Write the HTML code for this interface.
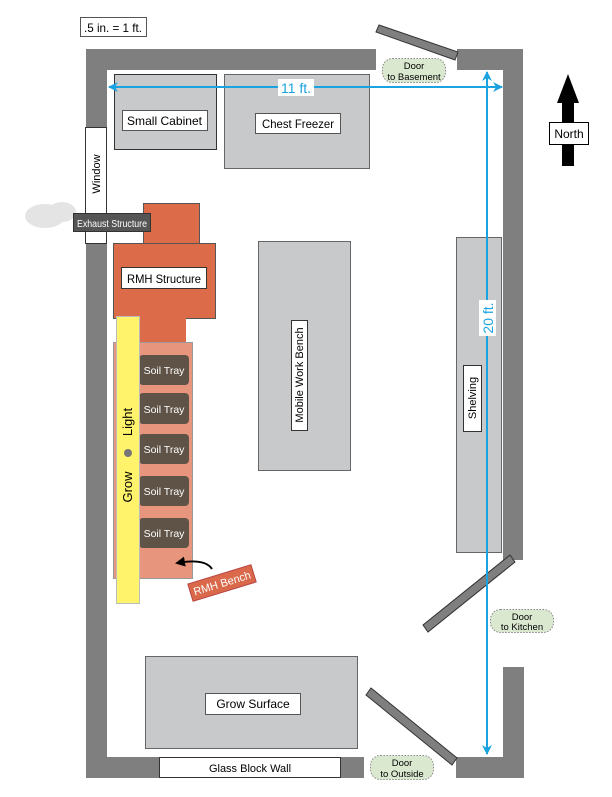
<!DOCTYPE html>
<html><head><style>
body{margin:0;background:#fff}
svg text{font-family:"Liberation Sans",sans-serif}
</style></head><body>
<svg width="612" height="792" viewBox="0 0 612 792" xmlns="http://www.w3.org/2000/svg">
<defs>
<marker id="ab" viewBox="0 0 10 10" refX="9" refY="5" markerWidth="5" markerHeight="5" orient="auto-start-reverse"><path d="M0,0L10,5L0,10L3,5z" fill="#1aa3e0"/></marker>
<marker id="ak" viewBox="0 0 10 10" refX="8" refY="5" markerWidth="5" markerHeight="5" orient="auto"><path d="M0,0L10,5L0,10z" fill="#000"/></marker>
</defs>
<rect x="80.5" y="17.5" width="66" height="19" fill="#fff" stroke="#555"/>
<text x="84" y="32" font-size="12" textLength="58" lengthAdjust="spacingAndGlyphs">.5 in. = 1 ft.</text>
<g fill="#7f7f7f">
<rect x="86" y="49" width="290" height="21"/>
<rect x="86" y="49" width="21" height="729"/>
<rect x="457" y="49" width="66" height="21"/>
<rect x="503" y="49" width="20" height="511"/>
<rect x="503" y="667" width="21" height="111"/>
<rect x="456" y="757" width="68" height="21"/>
<rect x="86" y="757" width="278" height="21"/>
</g>
<rect x="159.5" y="757.5" width="181" height="20" fill="#fff" stroke="#333"/>
<text x="250" y="772" font-size="11" text-anchor="middle">Glass Block Wall</text>
<rect x="85.5" y="127.5" width="21" height="116" fill="#fff" stroke="#333"/>
<text transform="translate(100,174) rotate(-90)" font-size="11" text-anchor="middle">Window</text>
<g stroke="#333" stroke-width="1" fill="#7f7f7f">
<polygon points="379,25 458,52 455,60 376,32"/>
<polygon points="510,555 515,562 428,632 423,625"/>
<polygon points="371,688 457,758 452,765 366,695"/>
</g>
<rect x="114.5" y="74.5" width="102" height="75" fill="#c8c9cb" stroke="#333"/>
<rect x="122.5" y="110.5" width="85" height="20" fill="#fff" stroke="#555"/>
<text x="127" y="125" font-size="12" textLength="75" lengthAdjust="spacingAndGlyphs">Small Cabinet</text>
<rect x="224.5" y="74.5" width="145" height="94" fill="#c8c9cb" stroke="#666"/>
<rect x="255.5" y="113.5" width="85" height="20" fill="#fff" stroke="#555"/>
<text x="262" y="128" font-size="12" textLength="72" lengthAdjust="spacingAndGlyphs">Chest Freezer</text>
<ellipse cx="45" cy="216" rx="20" ry="12" fill="#e4e4e4"/>
<ellipse cx="62" cy="212" rx="14" ry="10" fill="#e4e4e4"/>
<rect x="143.5" y="203.5" width="56" height="40" fill="#dc6b4a" stroke="#555"/>
<rect x="113.5" y="243.5" width="102" height="75" fill="#dc6b4a" stroke="#555"/>
<rect x="121.5" y="267.5" width="85" height="21" fill="#fff" stroke="#333"/>
<text x="127" y="283" font-size="12" textLength="74" lengthAdjust="spacingAndGlyphs">RMH Structure</text>
<rect x="73.5" y="213.5" width="77" height="18" fill="#555" stroke="#333"/>
<text x="77" y="227" font-size="10.5" fill="#fff" textLength="70" lengthAdjust="spacingAndGlyphs">Exhaust Structure</text>
<rect x="140" y="318" width="46" height="24" fill="#dc6b4a"/>
<rect x="113.5" y="342.5" width="79" height="236" fill="#e8957e" stroke="#999"/>
<g fill="#5e5346">
<rect x="139" y="355" width="50" height="30" rx="4"/>
<rect x="139" y="393" width="50" height="31" rx="4"/>
<rect x="139" y="434" width="50" height="30" rx="4"/>
<rect x="139" y="476" width="50" height="30" rx="4"/>
<rect x="139" y="518" width="50" height="30" rx="4"/>
</g>
<g font-size="10.5" fill="#fff" text-anchor="middle">
<text x="164" y="374">Soil Tray</text><text x="164" y="413">Soil Tray</text>
<text x="164" y="453">Soil Tray</text><text x="164" y="495">Soil Tray</text>
<text x="164" y="537">Soil Tray</text>
</g>
<rect x="116.5" y="316.5" width="23" height="287" fill="#fff36b" stroke="#bbb"/>
<circle cx="128" cy="453" r="4" fill="#777"/>
<text transform="translate(132,487) rotate(-90)" font-size="13" text-anchor="middle">Grow</text>
<text transform="translate(132,422) rotate(-90)" font-size="13" text-anchor="middle">Light</text>
<path d="M212,569 Q205,558 177,563" fill="none" stroke="#000" stroke-width="2" marker-end="url(#ak)"/>
<g transform="translate(222,583) rotate(-17)">
<rect x="-33" y="-9" width="66" height="18" fill="#d9694a" stroke="#b44"/>
<text x="0" y="4" font-size="11" fill="#fff" text-anchor="middle">RMH Bench</text>
</g>
<rect x="258.5" y="241.5" width="92" height="229" fill="#c8c9cb" stroke="#666"/>
<rect x="291.5" y="320.5" width="16" height="110" fill="#fff" stroke="#333"/>
<text transform="translate(303,375) rotate(-90)" font-size="11" text-anchor="middle">Mobile Work Bench</text>
<rect x="456.5" y="237.5" width="45" height="315" fill="#c8c9cb" stroke="#666"/>
<rect x="463.5" y="365.5" width="18" height="66" fill="#fff" stroke="#333"/>
<text transform="translate(476,398) rotate(-90)" font-size="11" text-anchor="middle">Shelving</text>
<rect x="145.5" y="656.5" width="212" height="92" fill="#c8c9cb" stroke="#666"/>
<rect x="205.5" y="693.5" width="95" height="21" fill="#fff" stroke="#555"/>
<text x="253" y="708" font-size="12" text-anchor="middle">Grow Surface</text>
<line x1="109" y1="87" x2="502" y2="87" stroke="#1aa3e0" stroke-width="2" marker-start="url(#ab)" marker-end="url(#ab)"/>
<rect x="278" y="79" width="36" height="17" fill="#fff"/>
<text x="296" y="93" font-size="14" fill="#1aa3e0" text-anchor="middle">11 ft.</text>
<line x1="487" y1="72" x2="487" y2="754" stroke="#1aa3e0" stroke-width="2" marker-start="url(#ab)" marker-end="url(#ab)"/>
<rect x="479" y="300" width="17" height="36" fill="#fff"/>
<text transform="translate(493,318) rotate(-90)" font-size="14" fill="#1aa3e0" text-anchor="middle">20 ft.</text>
<g fill="#dbe8d0" stroke="#888" stroke-dasharray="1.5,1.5">
<rect x="382.5" y="58.5" width="63" height="24" rx="10"/>
<rect x="490.5" y="609.5" width="63" height="23" rx="10"/>
<rect x="370.5" y="755.5" width="63" height="24" rx="10"/>
</g>
<g font-size="9.5" text-anchor="middle">
<text x="414" y="69">Door</text><text x="414" y="80">to Basement</text>
<text x="522" y="620">Door</text><text x="522" y="630">to Kitchen</text>
<text x="402" y="766">Door</text><text x="402" y="777">to Outside</text>
</g>
<rect x="562" y="95" width="12" height="71" fill="#000"/>
<polygon points="568,74 557,103 579,103" fill="#000"/>
<rect x="549.5" y="122.5" width="39" height="22" fill="#fff" stroke="#000"/>
<text x="569" y="138" font-size="12" text-anchor="middle">North</text>
</svg>
</body></html>
